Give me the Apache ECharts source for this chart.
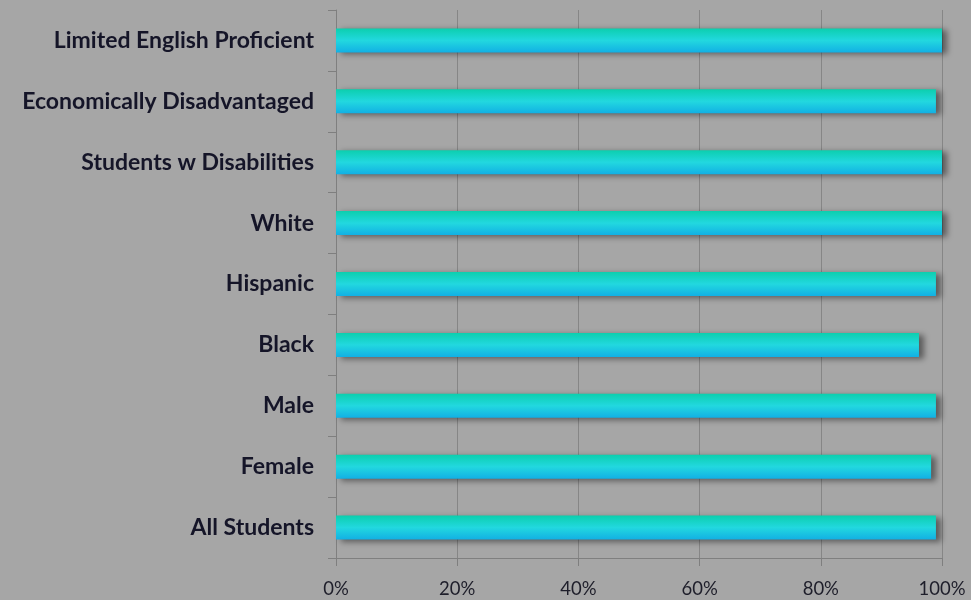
<!DOCTYPE html>
<html>
<head>
<meta charset="utf-8">
<script src="https://cdn.jsdelivr.net/npm/echarts@6/dist/echarts.min.js"></script>
<style>
  html, body { margin: 0; padding: 0; background: #a6a6a6; }
  #chart { width: 971px; height: 600px; }
</style>
</head>
<body>
<div id="chart"></div>
<script>
// groups, bottom to top as drawn
const groups = ['All Students', 'Female', 'Male', 'Black', 'Hispanic', 'White',
  'Students w Disabilities', 'Economically Disadvantaged', 'Limited English Proficient']
// percent of students
const percents = [99, 98.2, 99, 96.2, 99, 100, 100, 99, 100]
const xTicks = [0, 20, 40, 60, 80, 100]

const chart = echarts.init(document.getElementById('chart'))
chart.setOption({
  backgroundColor: '#a6a6a6',
  animation: false,
  grid: { left: 336, right: 29, top: 10, bottom: 42, containLabel: false },
  xAxis: {
    type: 'value',
    min: xTicks[0],
    max: xTicks[xTicks.length - 1],
    interval: 20,
    axisLine: { show: true, lineStyle: { color: '#7f7f7f', width: 1 } },
    axisTick: { show: true, length: 8, lineStyle: { color: '#7f7f7f' } },
    axisLabel: {
      formatter: '{value}%',
      color: '#1e1e2a',
      fontFamily: 'Lato',
      fontSize: 18.5,
      margin: 22
    },
    splitLine: { show: true, lineStyle: { color: '#868686', width: 1 } }
  },
  yAxis: {
    type: 'category',
    data: groups,
    axisLine: { show: true, lineStyle: { color: '#7f7f7f', width: 1 } },
    axisTick: { show: true, length: 8, lineStyle: { color: '#7f7f7f' } },
    axisLabel: {
      color: '#151528',
      fontFamily: 'Lato',
      fontWeight: 'bold',
      fontSize: 23,
      margin: 22
    }
  },
  series: [{
    type: 'bar',
    data: percents,
    barWidth: 24,
    itemStyle: {
      color: new echarts.graphic.LinearGradient(0, 0, 0, 1, [
        { offset: 0, color: '#0ccfae' },
        { offset: 0.5, color: '#22d8df' },
        { offset: 1, color: '#12b0e4' }
      ]),
      shadowColor: 'rgba(0, 0, 0, 0.45)',
      shadowBlur: 6,
      shadowOffsetX: 5,
      shadowOffsetY: 2
    }
  }]
})
</script>
</body>
</html>
